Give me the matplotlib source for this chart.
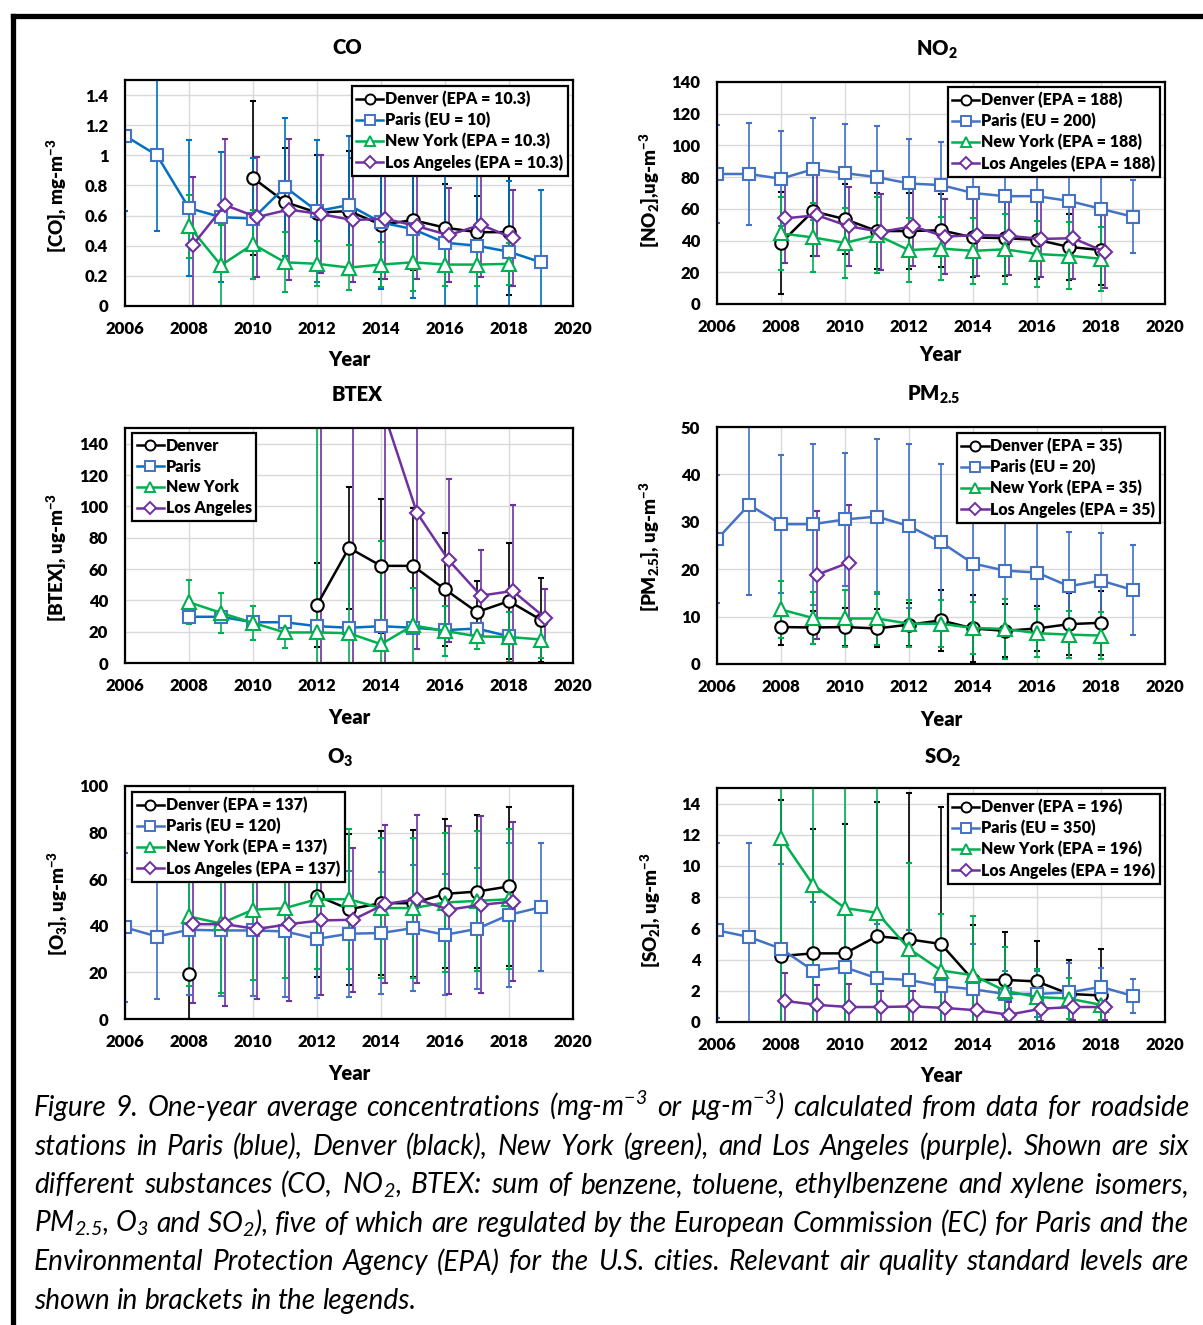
import numpy as np
import matplotlib
matplotlib.use("Agg")
import matplotlib.pyplot as plt
from matplotlib.lines import Line2D

W, H = 1203, 1325

plt.rcParams.update({
    "font.family": ["Lato", "DejaVu Sans"],
    "font.weight": "heavy",
    "mathtext.fontset": "custom",
    "mathtext.rm": "Lato:heavy",
    "mathtext.bf": "Lato:heavy",
    "mathtext.it": "Lato:italic:normal",
    "mathtext.sf": "Lato:italic:normal",
    "mathtext.default": "bf",
})

# --- data ---

YEARS_06_19 = [2006, 2007, 2008, 2009, 2010, 2011, 2012, 2013, 2014, 2015, 2016, 2017, 2018, 2019]
YEARS_08_18 = [2008, 2009, 2010, 2011, 2012, 2013, 2014, 2015, 2016, 2017, 2018]
YEARS_10_18 = [2010, 2011, 2012, 2013, 2014, 2015, 2016, 2017, 2018]
YEARS_08_19 = [2008, 2009, 2010, 2011, 2012, 2013, 2014, 2015, 2016, 2017, 2018, 2019]
YEARS_12_19 = [2012, 2013, 2014, 2015, 2016, 2017, 2018, 2019]
YEARS_09_10 = [2009, 2010]

# CO, mg/m3
co_denver = [0.85, 0.69, 0.62, 0.63, 0.54, 0.57, 0.52, 0.49, 0.49]
co_denver_err = [0.51, 0.36, 0.38, 0.40, 0.36, 0.33, 0.29, 0.24, 0.42]
co_paris = [1.13, 1.00, 0.65, 0.59, 0.58, 0.79, 0.63, 0.67, 0.555, 0.51, 0.42, 0.40, 0.36, 0.29]
co_paris_err = [0.50, 0.50, 0.45, 0.43, 0.40, 0.46, 0.47, 0.46, 0.44, 0.46, 0.46, 0.46, 0.47, 0.48]
co_ny = [0.53, 0.27, 0.41, 0.29, 0.28, 0.255, 0.275, 0.29, 0.275, 0.275, 0.28]
co_ny_err = [0.21, 0.27, 0.23, 0.20, 0.15, 0.15, 0.15, 0.19, 0.14, 0.14, 0.14]
co_la = [0.405, 0.67, 0.59, 0.64, 0.61, 0.57, 0.58, 0.53, 0.47, 0.54, 0.45]
co_la_err = [0.45, 0.44, 0.40, 0.47, 0.39, 0.41, 0.40, 0.35, 0.31, 0.35, 0.32]

# NO2, ug/m3
no2_denver = [38.5, 58.5, 53.5, 46, 46, 46.5, 42, 41.5, 40.5, 36, 34]
no2_denver_err = [32, 28, 22, 24, 24, 23, 25, 24, 25, 21, 22]
no2_paris = [82, 82, 79, 85, 82.5, 80, 76, 75, 70, 68, 68, 65, 60, 55]
no2_paris_err = [31, 32, 30, 32, 31, 32, 28, 27, 27, 26, 26, 25, 24, 23]
no2_ny = [44.5, 42, 38.5, 43.5, 34, 35, 33.5, 34.5, 31.5, 30.5, 28.5]
no2_ny_err = [23, 22, 22, 24, 20, 20, 21, 22, 21, 21, 20]
no2_la = [54, 56, 49, 45.5, 49, 42.5, 43.5, 43, 41, 41.5, 33]
no2_la_err = [28, 26, 25, 24, 25, 23.5, 26, 25, 24, 26, 23]

# BTEX, ug/m3
btex_denver = [37, 73.5, 62, 62, 47, 32.5, 39.5, 27.5]
btex_denver_err = [27, 39, 43, 37, 36, 20, 37, 27]
btex_paris = [29.5, 29.5, 26, 26, 23.5, 22.5, 23.5, 22.5, 21, 22, 17]
btex_paris_err = [2, 2, 2, 2, 2, 2, 2, 2, 2, 2, 2]
btex_ny = [38.8, 32, 25.6, 19.5, 19.5, 19, 12, 24, 20.5, 17, 16.6, 15]
btex_ny_err = [14, 13, 11, 10, 150, 56, 66, 24, 16, 8, 16, 12]
btex_la = [250, 220, 158, 96, 65.5, 43, 46, 29]
btex_la_err = [260, 230, 165, 87, 52, 29, 55, 18]

# PM2.5, ug/m3
pm_denver = [7.8, 7.7, 7.8, 7.5, 8.3, 9.2, 7.5, 7.0, 7.5, 8.4, 8.7]
pm_denver_err = [3.8, 3.5, 4.0, 4.0, 4.6, 6.5, 7.0, 5.6, 4.7, 6.5, 6.8]
pm_paris = [26.3, 33.6, 29.5, 29.5, 30.5, 31.1, 29.1, 25.7, 21.2, 19.7, 19.3, 16.4, 17.6, 15.6]
pm_paris_err = [13.5, 19, 14.5, 17, 14, 16.4, 17.3, 16.5, 13, 13, 13, 11.5, 10, 9.5]
pm_ny = [11.5, 9.7, 9.6, 9.6, 8.5, 8.5, 7.6, 7.4, 6.5, 6.2, 6.0]
pm_ny_err = [6, 5.5, 6, 5.6, 5, 5, 5.5, 6.4, 5, 5, 5]
pm_la = [18.8, 21.4]
pm_la_err = [13.5, 12.2]

# O3, ug/m3 (Denver has no data 2009-2011)
o3_denver = [19.5, np.nan, np.nan, np.nan, 52.9, 47.1, 49.7, 49.7, 53.7, 54.7, 56.9]
o3_denver_err = [19.5, np.nan, np.nan, np.nan, 34.7, 32.5, 31, 31.5, 32, 33, 34]
o3_paris = [39.3, 35.4, 38.3, 38, 38, 37.6, 34.4, 36.6, 36.9, 39, 36.1, 38.7, 44.7, 48]
o3_paris_err = [32, 27, 28, 28, 28, 28, 25.5, 27, 26, 27, 26, 26, 31, 27.5]
o3_ny = [44, 41, 46.9, 47.6, 51.4, 51.4, 47.6, 47.6, 50, 50.7, 51.4]
o3_ny_err = [30, 30, 30, 30, 30, 30, 30, 30, 30, 30, 30]
o3_la = [40.7, 40.7, 38.6, 40.7, 42.3, 42.6, 49.3, 51.4, 46.9, 49, 50.4]
o3_la_err = [34, 35, 30, 33, 32, 31, 34, 36, 36, 38, 34]

# SO2, ug/m3
so2_denver = [4.23, 4.4, 4.4, 5.5, 5.3, 5.0, 2.7, 2.7, 2.6, 1.8, 1.7]
so2_denver_err = [10, 8, 8.3, 8.6, 9.4, 8.8, 3.5, 3.1, 2.6, 2.15, 3.0]
so2_paris = [5.88, 5.45, 4.7, 3.3, 3.5, 2.8, 2.7, 2.3, 2.1, 1.8, 1.8, 1.9, 2.25, 1.67]
so2_paris_err = [5.6, 6.0, 5.4, 4.4, 4.0, 3.5, 3.2, 2.8, 2.9, 1.5, 1.5, 1.9, 1.2, 1.1]
so2_ny = [11.8, 8.8, 7.3, 7.0, 4.7, 3.3, 3.0, 2.0, 1.6, 1.5, 1.1]
so2_ny_err = [12, 10, 9, 9, 5.5, 3.6, 3.8, 2.8, 1.8, 1.3, 1.0]
so2_la = [1.35, 1.1, 0.96, 0.96, 1.0, 0.9, 0.75, 0.47, 0.85, 0.96, 0.96]
so2_la_err = [1.8, 1.3, 1.5, 1.0, 1.0, 1.0, 1.0, 0.8, 0.8, 0.8, 0.8]

CAPTION = [
    r"Figure 9. One-year average concentrations (mg-m$^{\mathsf{-3}}$ or µg-m$^{\mathsf{-3}}$) calculated from data for roadside",
    r"stations in Paris (blue), Denver (black), New York (green), and Los Angeles (purple). Shown are six",
    r"different substances (CO, NO$_{\mathsf{2}}$, BTEX: sum of benzene, toluene, ethylbenzene and xylene isomers,",
    r"PM$_{\mathsf{2.5}}$, O$_{\mathsf{3}}$ and SO$_{\mathsf{2}}$), five of which are regulated by the European Commission (EC) for Paris and the",
    r"Environmental Protection Agency (EPA) for the U.S. cities. Relevant air quality standard levels are",
    r"shown in brackets in the legends.",
]

# --- styles ---
BLUE = "#4472C4"
BLUE2 = "#0070C0"
STYLE = {
    "Denver": dict(color="black", marker="o", ms=9, dx=0.0),
    "Paris": dict(color=BLUE, marker="s", ms=8.5, dx=0.0),
    "New York": dict(color="#00B050", marker="^", ms=9.5, dx=0.0),
    "Los Angeles": dict(color="#7030A0", marker="D", ms=7.5, dx=0.12),
}
CITIES = ["Denver", "Paris", "New York", "Los Angeles"]


def fx(px):
    return px / W


def fy(py):
    return 1 - py / H


def draw_panel(fig, box, series, ylim, yticks, title, title_xy, ylabel, ylabel_xy,
               year_xy, legend_labels, legend_corner, paris_line=BLUE):
    l, t, r, b = box
    ax = fig.add_axes([fx(l), fy(b), (r - l) / W, (b - t) / H])
    for city, (years, vals, errs) in zip(CITIES, series):
        st = STYLE[city]
        lc = paris_line if city == "Paris" else st["color"]
        x = np.array(years, dtype=float) + st["dx"]
        ax.errorbar(x, vals, yerr=errs, color=lc, ecolor=lc, elinewidth=1.2,
                    capsize=2.5, capthick=1.2, lw=1.8, marker=st["marker"],
                    ms=st["ms"], mfc="white", mec=st["color"], mew=1.5)
    ax.set_xlim(2006, 2020)
    ax.set_xticks(range(2006, 2021, 2))
    ax.set_ylim(*ylim)
    ax.set_yticks(yticks)
    ax.set_yticklabels([f"{v:g}" for v in yticks])
    ax.grid(True, color="#D9D9D9", lw=1)
    ax.set_axisbelow(True)
    for sp in ax.spines.values():
        sp.set_linewidth(1.6)
        sp.set_color("black")
    ax.tick_params(length=0, labelsize=12)
    ax.tick_params(axis="x", pad=11)
    ax.tick_params(axis="y", pad=12)
    for lab in ax.get_xticklabels() + ax.get_yticklabels():
        lab.set_fontweight("heavy")

    fig.text(fx(title_xy[0]), fy(title_xy[1]), title, ha="center", va="center",
             fontsize=14.5, fontweight="heavy")
    fig.text(fx(ylabel_xy[0]), fy(ylabel_xy[1]), ylabel, ha="center", va="center",
             rotation=90, fontsize=13.5, fontweight="heavy")
    fig.text(fx(year_xy[0]), fy(year_xy[1]), "Year", ha="center", va="center",
             fontsize=14.5, fontweight="heavy")

    handles = []
    for city in CITIES:
        st = STYLE[city]
        lc = paris_line if city == "Paris" else st["color"]
        handles.append(Line2D([], [], color=lc, lw=1.8, marker=st["marker"],
                              ms=st["ms"] * 0.8, mfc="white", mec=st["color"], mew=1.4))
    loc, (lx, ly) = legend_corner
    leg = fig.legend(handles, legend_labels, loc=loc, bbox_to_anchor=(fx(lx), fy(ly)),
                     bbox_transform=fig.transFigure, borderaxespad=0,
                     frameon=True, fancybox=False, edgecolor="black", framealpha=1,
                     handlelength=1.7, handletextpad=0.1, labelspacing=0.3,
                     borderpad=0.3, prop=dict(weight="heavy", size=11.5))
    leg.get_frame().set_linewidth(1.6)
    return ax


def main():
    fig = plt.figure(figsize=(W / 100, H / 100), dpi=100)

    draw_panel(fig, (125, 80, 573, 306),
               [(YEARS_10_18, co_denver, co_denver_err),
                (YEARS_06_19, co_paris, co_paris_err),
                (YEARS_08_18, co_ny, co_ny_err),
                (YEARS_08_18, co_la, co_la_err)],
               (0, 1.5), [0, 0.2, 0.4, 0.6, 0.8, 1.0, 1.2, 1.4],
               "CO", (347, 48), r"[CO], mg-m$^{-3}$", (57, 196), (349, 359),
               ["Denver (EPA = 10.3)", "Paris (EU = 10)", "New York (EPA = 10.3)",
                "Los Angeles (EPA = 10.3)"],
               ("upper right", (568, 86)), paris_line=BLUE2)

    draw_panel(fig, (717, 82, 1165, 304),
               [(YEARS_08_18, no2_denver, no2_denver_err),
                (YEARS_06_19, no2_paris, no2_paris_err),
                (YEARS_08_18, no2_ny, no2_ny_err),
                (YEARS_08_18, no2_la, no2_la_err)],
               (0, 140), list(range(0, 141, 20)),
               r"NO$_2$", (937, 50), r"[NO$_2$],ug-m$^{-3}$", (650, 190), (940, 355),
               ["Denver (EPA = 188)", "Paris (EU = 200)", "New York (EPA = 188)",
                "Los Angeles (EPA = 188)"],
               ("upper right", (1160, 87)))

    draw_panel(fig, (125, 428, 573, 663),
               [(YEARS_12_19, btex_denver, btex_denver_err),
                (YEARS_08_18, btex_paris, btex_paris_err),
                (YEARS_08_19, btex_ny, btex_ny_err),
                (YEARS_12_19, btex_la, btex_la_err)],
               (0, 150), list(range(0, 141, 20)),
               "BTEX", (357, 395), r"[BTEX], ug-m$^{-3}$", (57, 557), (349, 718),
               ["Denver", "Paris", "New York", "Los Angeles"],
               ("upper left", (132, 433)), paris_line=BLUE2)

    draw_panel(fig, (717, 427, 1165, 664),
               [(YEARS_08_18, pm_denver, pm_denver_err),
                (YEARS_06_19, pm_paris, pm_paris_err),
                (YEARS_08_18, pm_ny, pm_ny_err),
                (YEARS_09_10, pm_la, pm_la_err)],
               (0, 50), list(range(0, 51, 10)),
               r"PM$_{2.5}$", (934, 395), r"[PM$_{2.5}$], ug-m$^{-3}$", (650, 547), (941, 719),
               ["Denver (EPA = 35)", "Paris (EU = 20)", "New York (EPA = 35)",
                "Los Angeles (EPA = 35)"],
               ("upper right", (1160, 433)))

    draw_panel(fig, (125, 786, 573, 1019),
               [(YEARS_08_18, o3_denver, o3_denver_err),
                (YEARS_06_19, o3_paris, o3_paris_err),
                (YEARS_08_18, o3_ny, o3_ny_err),
                (YEARS_08_18, o3_la, o3_la_err)],
               (0, 100), list(range(0, 101, 20)),
               r"O$_3$", (340, 758), r"[O$_3$], ug-m$^{-3}$", (58, 903), (349, 1074),
               ["Denver (EPA = 137)", "Paris (EU = 120)", "New York (EPA = 137)",
                "Los Angeles (EPA = 137)"],
               ("upper left", (132, 792)))

    draw_panel(fig, (717, 788, 1165, 1022),
               [(YEARS_08_18, so2_denver, so2_denver_err),
                (YEARS_06_19, so2_paris, so2_paris_err),
                (YEARS_08_18, so2_ny, so2_ny_err),
                (YEARS_08_18, so2_la, so2_la_err)],
               (0, 15), list(range(0, 15, 2)),
               r"SO$_2$", (943, 758), r"[SO$_2$], ug-m$^{-3}$", (651, 910), (941, 1076),
               ["Denver (EPA = 196)", "Paris (EU = 350)", "New York (EPA = 196)",
                "Los Angeles (EPA = 196)"],
               ("upper right", (1160, 794)))

    # caption: size fitted to the longest line, then justified word by word
    renderer = fig.canvas.get_renderer()
    x0, x1 = 34, 1189
    cap_kw = dict(fontsize=16, fontstyle="italic", fontweight="normal", va="baseline",
                  ha="left", color="black")
    natural = []
    for line in CAPTION[:-1]:
        t = fig.text(0, 0, line, **cap_kw)
        natural.append(t.get_window_extent(renderer).width)
        t.remove()
    cap_kw["fontsize"] = 16 * (x1 - x0) / max(natural) * 0.995
    probe = fig.text(0, 0, "a b", **cap_kw)
    w_ab = probe.get_window_extent(renderer).width
    probe.set_text("ab")
    space = w_ab - probe.get_window_extent(renderer).width
    probe.remove()
    for i, line in enumerate(CAPTION):
        words = line.split(" ")
        arts = [fig.text(0, fy(1116 + 38.6 * i), wd, **cap_kw) for wd in words]
        widths = [a.get_window_extent(renderer).width for a in arts]
        if i < len(CAPTION) - 1:
            gap = (x1 - x0 - sum(widths)) / (len(words) - 1)
        else:
            gap = space
        x = x0
        for a, wd in zip(arts, widths):
            a.set_x(fx(x))
            x += wd + gap

    # frame around the figure (top and left edges visible)
    fig.add_artist(Line2D([fx(12.5), 1.0], [fy(15.5), fy(15.5)], transform=fig.transFigure,
                          color="black", lw=3.8, solid_capstyle="projecting"))
    fig.add_artist(Line2D([fx(12.5), fx(12.5)], [fy(15.5), 0.0], transform=fig.transFigure,
                          color="black", lw=3.8, solid_capstyle="projecting"))

    fig.savefig("out.png", dpi=100)


if __name__ == "__main__":
    main()
